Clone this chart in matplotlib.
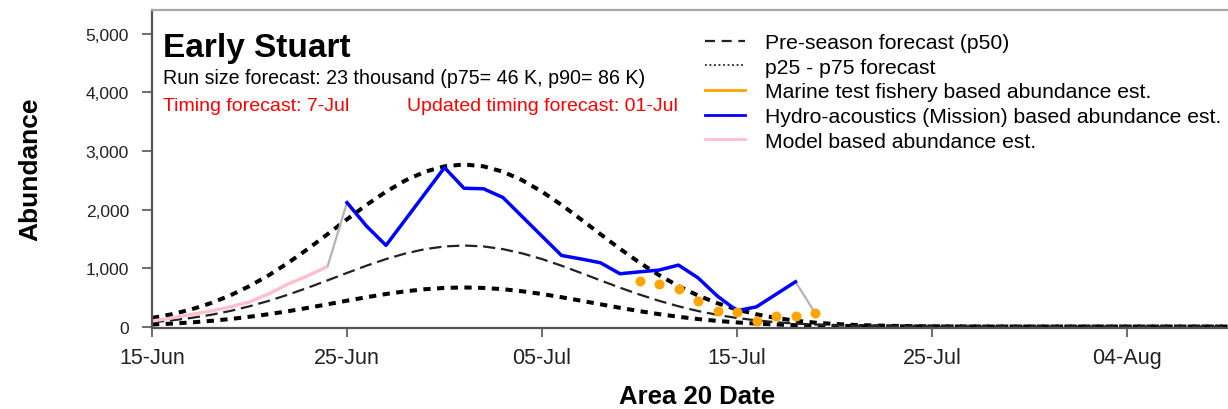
#!/usr/bin/env python3
"""Early Stuart abundance chart: pre-season forecast vs in-season estimates."""
import matplotlib

matplotlib.use("Agg")
import matplotlib.dates as mdates
import matplotlib.pyplot as plt
import pandas as pd
from matplotlib.lines import Line2D
from matplotlib.ticker import StrMethodFormatter

# daily forecast curves, starting 15-Jun
forecast_start = "2021-06-15"
p50_forecast = [74, 105, 146, 199, 265, 346, 440, 547, 664, 789, 916, 1040, 1153, 1249, 1323, 1369, 1385,
                1369, 1323, 1249, 1153, 1040, 916, 789, 664, 547, 440, 346, 265, 199, 146, 105, 74,
                50, 34, 22, 14, 9, 6, 4, 2, 1, 1,
                0, 0, 0, 0, 0, 0, 0, 0, 0, 0, 0, 0, 0, 0]
p75_forecast = [147, 209, 291, 398, 530, 691, 879, 1093, 1328, 1578, 1832, 2079, 2305, 2498, 2646, 2738, 2770,
                2738, 2646, 2498, 2305, 2079, 1832, 1578, 1328, 1093, 879, 691, 530, 398, 291, 209, 147,
                100, 67, 44, 28, 18, 11, 7, 4, 2, 1,
                0, 0, 0, 0, 0, 0, 0, 0, 0, 0, 0, 0, 0, 0]
p25_forecast = [35, 50, 70, 96, 128, 167, 212, 263, 320, 380, 442, 501, 556, 602, 638, 660, 668,
                660, 638, 602, 556, 501, 442, 380, 320, 263, 212, 167, 128, 96, 70, 50, 35,
                24, 16, 11, 7, 4, 3, 2, 1, 1, 0,
                0, 0, 0, 0, 0, 0, 0, 0, 0, 0, 0, 0, 0, 0]

model_start = "2021-06-15"
model_est = [95, 145, 205, 265, 335, 420, 560, 730, 870, 1025]

mission_start = "2021-06-25"
mission_est = [2118, 1717, 1387, 1830, 2273, 2717, 2363, 2355, 2205, 1874, 1544, 1215,
               1155, 1090, 902, 935, 965, 1050, 833, 519, 270, 337, 551, 765]

marine_start = "2021-07-10"
marine_est = [776, 719, 634, 445, 268, 251, 95, 185, 172, 234]

x_ticks = ["2021-06-15", "2021-06-25", "2021-07-05", "2021-07-15", "2021-07-25", "2021-08-04"]
y_ticks = [0, 1000, 2000, 3000, 4000, 5000]

W, H = 1228, 410


def px(x, y):
    """figure pixel -> figure fraction"""
    return x / W, 1 - y / H


def main():
    plt.rcParams["font.family"] = ["Liberation Sans", "DejaVu Sans"]

    fig = plt.figure(figsize=(W / 100, H / 100), dpi=100)
    left, bottom, top = 152, 329, 11
    ax = fig.add_axes([left / W, 1 - bottom / H, 1 - left / W, (bottom - top) / H])

    fc_dates = pd.date_range(forecast_start, periods=len(p50_forecast))
    model_dates = pd.date_range(model_start, periods=len(model_est))
    mission_dates = pd.date_range(mission_start, periods=len(mission_est))
    marine_dates = pd.date_range(marine_start, periods=len(marine_est))

    ax.plot(fc_dates, p75_forecast, color="black", lw=2.9, linestyle=(0, (1.8, 1.6)))
    ax.plot(fc_dates, p25_forecast, color="black", lw=2.9, linestyle=(0, (1.8, 1.6)))
    ax.plot(fc_dates, p50_forecast, color="#222222", lw=1.6, linestyle=(0, (5.5, 2.6)))

    # gray joins between the estimate types
    ax.plot([model_dates[-1], mission_dates[0]], [model_est[-1], mission_est[0]],
            color="#b4b4b4", lw=1.6)
    ax.plot([mission_dates[-1], marine_dates[-1]], [mission_est[-1], marine_est[-1]],
            color="#b4b4b4", lw=1.6)

    ax.plot(model_dates, model_est, color="#ffc0cb", lw=2.4, solid_capstyle="butt")
    ax.plot(mission_dates, mission_est, color="#0000ff", lw=2.5)
    ax.plot(marine_dates, marine_est, "o", color="#ffa500", ms=7.2, mec="none")

    ax.set_xlim(pd.Timestamp(forecast_start),
                pd.Timestamp(forecast_start) + pd.Timedelta(days=(W - left) / 19.5))
    ax.set_ylim(-25, 5410)
    ax.set_xticks(pd.to_datetime(x_ticks))
    ax.xaxis.set_major_formatter(mdates.DateFormatter("%d-%b"))
    ax.set_yticks(y_ticks)
    ax.yaxis.set_major_formatter(StrMethodFormatter("{x:,.0f}"))

    ax.tick_params(axis="both", width=1.2, color="#555555", labelcolor="#222222")
    ax.tick_params(axis="x", length=6.5, pad=7, labelsize=15.5)
    ax.tick_params(axis="y", length=7.5, pad=9, labelsize=12.5)
    for side in ("left", "bottom"):
        ax.spines[side].set_color("#555555")
        ax.spines[side].set_linewidth(1.6)
    ax.spines["top"].set_color("#a8a8a8")
    ax.spines["top"].set_linewidth(1.6)
    ax.spines["right"].set_visible(False)

    ax.set_xlabel("Area 20 Date", fontsize=18.5, fontweight="bold", va="center")
    ax.xaxis.set_label_coords(0.5065, (bottom - 397) / (bottom - top))
    ax.set_ylabel("Abundance", fontsize=19, fontweight="bold", va="center")
    ax.yaxis.set_label_coords((30 - left) / (W - left), (bottom - 169) / (bottom - top))

    fig.text(*px(163, 57), "Early Stuart", fontsize=24, fontweight="bold", va="baseline")
    fig.text(*px(163, 84), "Run size forecast: 23 thousand (p75= 46 K, p90= 86 K)",
             fontsize=14.1, va="baseline")
    fig.text(*px(163, 111), "Timing forecast: 7-Jul", fontsize=14, color="#ff0000", va="baseline")
    fig.text(*px(407, 111), "Updated timing forecast: 01-Jul", fontsize=14, color="#ff0000",
             va="baseline")

    handles = [
        Line2D([], [], color="#222222", lw=1.6, linestyle=(0, (4.5, 3))),
        Line2D([], [], color="#222222", lw=1.3, linestyle=(0, (1, 1.5))),
        Line2D([], [], color="#ffa500", lw=2),
        Line2D([], [], color="#0000ff", lw=2),
        Line2D([], [], color="#ffc0cb", lw=2),
    ]
    labels = [
        "Pre-season forecast (p50)",
        "p25 - p75 forecast",
        "Marine test fishery based abundance est.",
        "Hydro-acoustics (Mission) based abundance est.",
        "Model based abundance est.",
    ]
    fig.legend(handles, labels, loc="upper left", bbox_to_anchor=px(705, 34),
               frameon=False, fontsize=15.2, borderpad=0, borderaxespad=0,
               handlelength=1.9, handletextpad=0.95, labelspacing=0.27)

    fig.savefig("out.png", dpi=100)
    plt.close(fig)


if __name__ == "__main__":
    main()
